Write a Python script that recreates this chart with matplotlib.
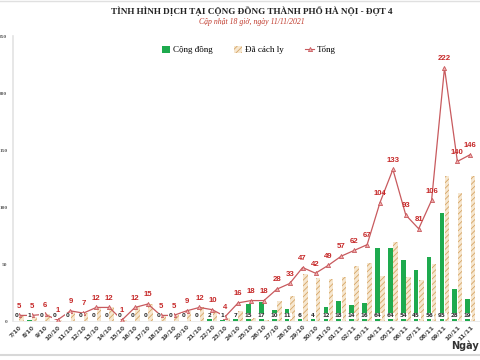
"""Tinh hinh dich tai cong dong Ha Noi - dot 4 (bar + line chart)."""

import matplotlib

matplotlib.use("Agg")
import matplotlib.pyplot as plt
import numpy as np
from matplotlib.lines import Line2D
from matplotlib.patches import Patch

dates = [
    "7/10", "8/10", "9/10", "10/10", "11/10", "12/10", "13/10", "14/10", "15/10",
    "16/10", "17/10", "18/10", "19/10", "20/10", "21/10", "22/10", "23/10", "24/10",
    "25/10", "26/10", "27/10", "28/10", "29/10", "30/10", "31/10", "01/11", "02/11",
    "03/11", "04/11", "05/11", "06/11", "07/11", "08/11", "09/11", "10/11", "11/11",
]
cong_dong = [0, 1, 0, 0, 0, 0, 0, 0, 0, 0, 0, 0, 0, 0, 0, 2, 1, 7,
             15, 17, 10, 11, 6, 4, 12, 18, 14, 16, 64, 64, 54, 45, 56, 95, 28, 19]
da_cach_ly = [5, 4, 6, 1, 9, 7, 12, 12, 1, 12, 15, 5, 5, 9, 12, 8, 3, 9,
              3, 1, 18, 22, 41, 38, 37, 39, 48, 51, 40, 69, 39, 36, 50, 127, 112, 127]
tong = [5, 5, 6, 1, 9, 7, 12, 12, 1, 12, 15, 5, 5, 9, 12, 10, 4, 16,
        18, 18, 28, 33, 47, 42, 49, 57, 62, 67, 104, 133, 93, 81, 106, 222, 140, 146]
y_ticks = [0, 50, 100, 150, 200, 250]

GREEN = "#1eaa4e"
TAN_FACE = "#f6e7d0"
TAN_EDGE = "#d6a565"
RED = "#c85a5e"
LABEL_RED = "#c62828"

plt.rcParams["hatch.linewidth"] = 0.6

fig = plt.figure(figsize=(4.8, 3.6), dpi=100)
ax = fig.add_axes([0.027, 0.108, 0.985, 0.792])

x = np.arange(len(dates))
w = 0.36
ax.bar(x - w / 2 - 0.02, cong_dong, width=w, color=GREEN, linewidth=0, zorder=2)
ax.bar(x + w / 2 + 0.02, da_cach_ly, width=w, facecolor=TAN_FACE,
       edgecolor=TAN_EDGE, hatch="//////", linewidth=0, zorder=2)
ax.plot(x, tong, color=RED, lw=0.9, marker="^", markersize=3,
        markerfacecolor="#f0b0b0", markeredgecolor=RED, markeredgewidth=0.6, zorder=3)

for xi, v in zip(x, tong):
    ax.text(xi, v + 5, str(v), ha="center", va="bottom", fontsize=5.6,
            fontweight="bold", color=LABEL_RED, family="Liberation Sans", zorder=4)

for xi, v in zip(x, cong_dong):
    ax.text(xi - w / 2 - 0.02, 4.5, str(v), ha="center", va="center", fontsize=4,
            fontweight="bold", color="#333333", family="DejaVu Sans", zorder=4,
            bbox=dict(boxstyle="square,pad=0.15", fc="white", ec="none"))

ax.set_xlim(-0.46, 36.2)
ax.set_ylim(0, 250)
ax.set_yticks(y_ticks)
ax.set_yticklabels([str(t) for t in y_ticks], fontsize=3.8, color="#555555",
                   fontweight="bold", family="Liberation Serif")
ax.set_xticks(x)
ax.set_xticklabels(dates, rotation=45, ha="right", rotation_mode="anchor",
                   fontsize=4.3, fontweight="bold", color="#444444")
ax.tick_params(axis="both", length=0, pad=2)
ax.tick_params(axis="y", pad=4)

for side in ["top", "right"]:
    ax.spines[side].set_visible(False)
ax.spines["left"].set_color("#e3e3e3")
ax.spines["left"].set_linewidth(1.2)
ax.spines["bottom"].set_color("#e8e8e8")
ax.spines["bottom"].set_linewidth(0.6)

fig.text(0.525, 0.968, "TÌNH HÌNH DỊCH TẠI CỘNG ĐỒNG THÀNH PHỐ HÀ NỘI - ĐỢT 4",
         ha="center", va="center", fontsize=6.6, fontweight="bold",
         family="Liberation Serif", color="#222222")
fig.text(0.525, 0.938, "Cập nhật 18 giờ, ngày 11/11/2021", ha="center", va="center",
         fontsize=5.6, style="italic", family="Liberation Serif", color="#c0392b")
fig.text(0.998, 0.04, "Ngày", ha="right", va="center", fontsize=7,
         fontweight="bold", color="#333333")

handles = [
    Patch(facecolor=GREEN, linewidth=0),
    Patch(facecolor=TAN_FACE, edgecolor=TAN_EDGE, hatch="//////", linewidth=0),
    Line2D([0], [0], color=RED, lw=0.8, marker="^", markersize=3,
           markerfacecolor="#f0b0b0", markeredgecolor=RED, markeredgewidth=0.6),
]
fig.legend(handles, ["Cộng đồng", "Đã cách ly", "Tổng"], loc="center",
           bbox_to_anchor=(0.518, 0.861), ncol=3, frameon=False,
           prop={"family": "Liberation Serif", "size": 6.5},
           handlelength=0.9, handleheight=0.8, handletextpad=0.3, columnspacing=2.4)

fig.add_artist(Line2D([0, 1], [0.013, 0.013], color="#d8d8d8", lw=1.5,
                      transform=fig.transFigure))
fig.add_artist(Line2D([0, 1], [0.998, 0.998], color="#e0e0e0", lw=1.0,
                      transform=fig.transFigure))

fig.savefig("out.png", dpi=100)
